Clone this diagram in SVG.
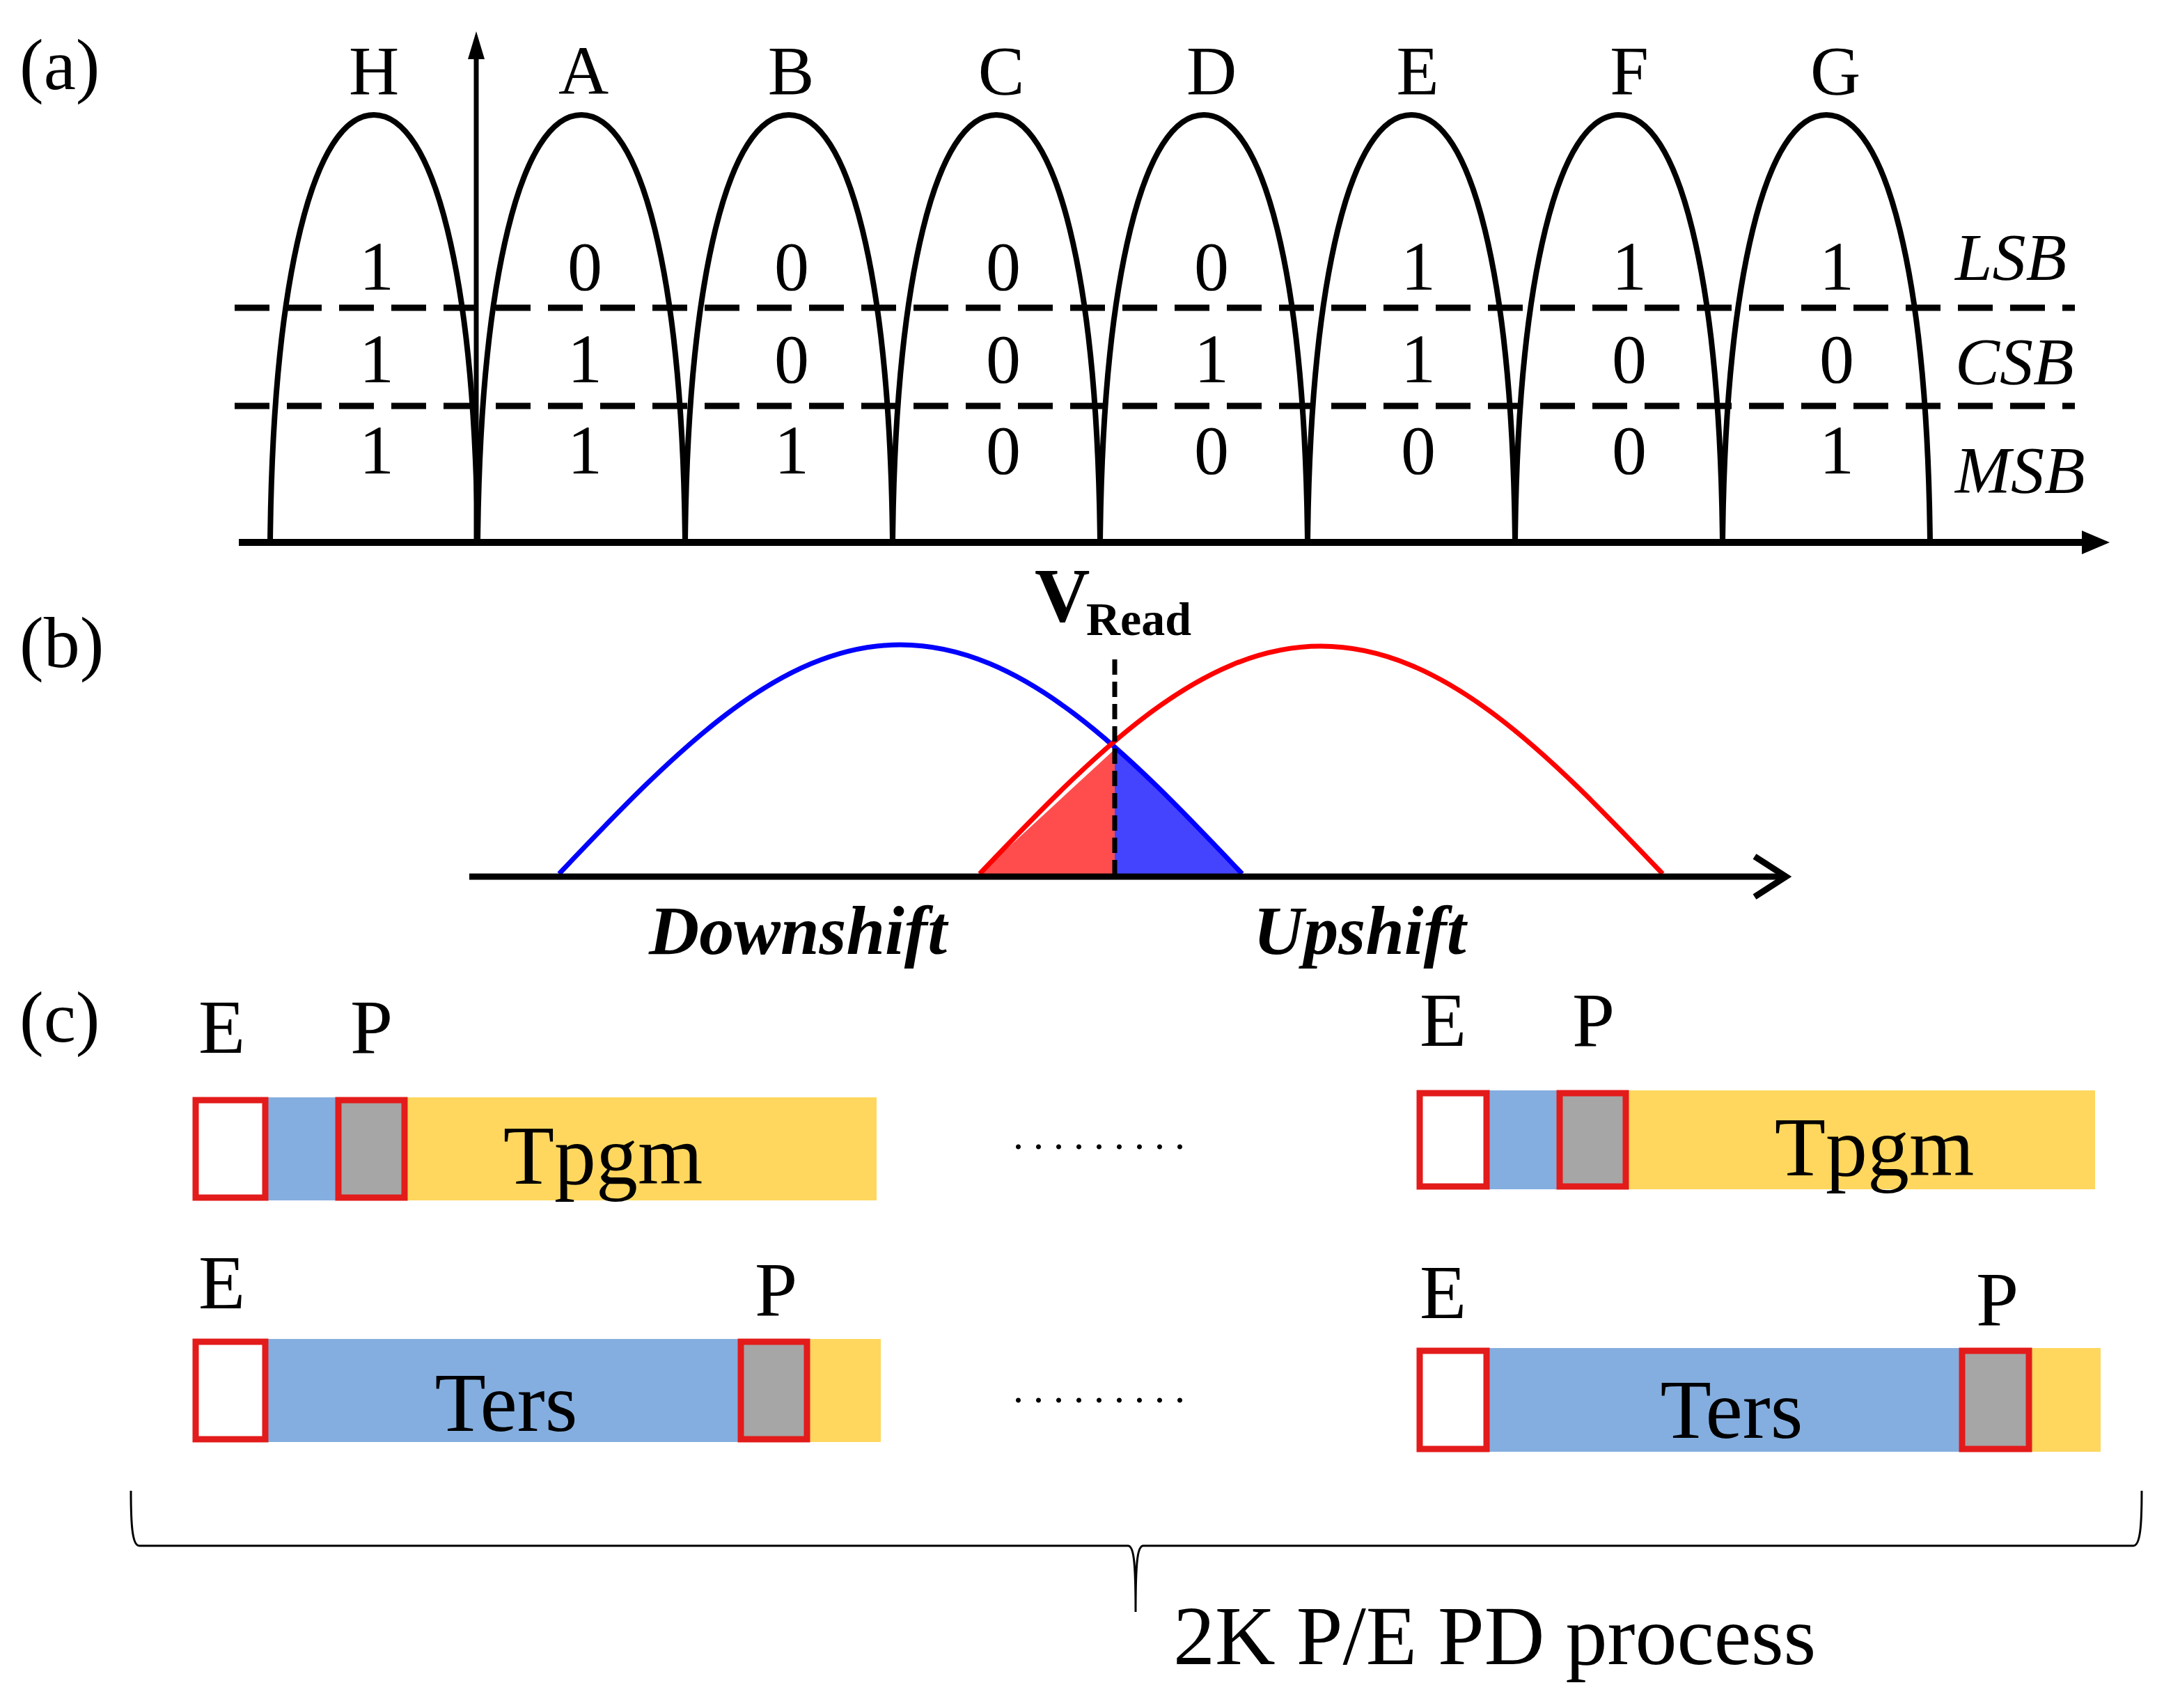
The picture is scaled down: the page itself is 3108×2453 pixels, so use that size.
<svg xmlns="http://www.w3.org/2000/svg" width="3108" height="2453" viewBox="0 0 3108 2453">
<style>
text{font-family:"Liberation Serif","Times New Roman",serif;fill:#000}
.lab{font-size:104px}
.dig{font-size:100px;text-anchor:middle}
.st{font-size:96px;font-style:italic}
.bell{fill:none;stroke:#000;stroke-width:8}
.dash{stroke:#000;stroke-width:9;stroke-dasharray:50 25}
.rb{fill:#fff;stroke:#e31b1b;stroke-width:9}
.gb{fill:#a6a6a6;stroke:#e31b1b;stroke-width:9}
.bl{fill:#84aedf}
.ye{fill:#ffd75e}
.big{font-size:120px;text-anchor:middle}
.ep{font-size:110px}
.dots{font-size:60px;letter-spacing:14px}
</style>
<defs>
<marker id="ah" markerWidth="10" markerHeight="10" refX="9" refY="5" orient="auto" markerUnits="userSpaceOnUse" viewBox="0 0 10 10"><path d="M0,0 L10,5 L0,10 Z" fill="#000"/></marker>
</defs>
<rect width="3108" height="2453" fill="#fff"/>
<g id="panel-a">
<text class="lab" x="28" y="128">(a)</text>
<line x1="343" y1="779" x2="3000" y2="779" stroke="#000" stroke-width="10"/>
<path d="M3030,779 L2990,762 L2990,796 Z" fill="#000"/>
<line x1="684" y1="779" x2="684" y2="80" stroke="#000" stroke-width="7"/>
<path d="M684,45 L672,85 L696,85 Z" fill="#000"/>
<line class="dash" x1="337" y1="442" x2="2980" y2="442"/>
<line class="dash" x1="337" y1="583" x2="2980" y2="583"/>
<g id="bells">
<path class="bell" d="M388,779 C392,400 450,165 537,165 C624,165 682,400 686,779"/>
<path class="bell" d="M686,779 C690,400 748,165 835,165 C922,165 980,400 984,779"/>
<path class="bell" d="M984,779 C988,400 1046,165 1133,165 C1220,165 1278,400 1282,779"/>
<path class="bell" d="M1282,779 C1286,400 1344,165 1431,165 C1518,165 1576,400 1580,779"/>
<path class="bell" d="M1580,779 C1584,400 1642,165 1729,165 C1816,165 1874,400 1878,779"/>
<path class="bell" d="M1878,779 C1882,400 1940,165 2027,165 C2114,165 2172,400 2176,779"/>
<path class="bell" d="M2176,779 C2180,400 2238,165 2325,165 C2412,165 2470,400 2474,779"/>
<path class="bell" d="M2474,779 C2478,400 2536,165 2623,165 C2710,165 2768,400 2772,779"/>
</g>
<g class="dig">
<text x="537" y="135" class="dig" font-size="104">H</text>
<text x="838" y="135" class="dig">A</text>
<text x="1136" y="135" class="dig">B</text>
<text x="1438" y="135" class="dig">C</text>
<text x="1740" y="135" class="dig">D</text>
<text x="2036" y="135" class="dig">E</text>
<text x="2340" y="135" class="dig">F</text>
<text x="2636" y="135" class="dig">G</text>
</g>
<g>
<text class="dig" x="541" y="416">1</text><text class="dig" x="541" y="549">1</text><text class="dig" x="541" y="680">1</text>
<text class="dig" x="840" y="416">0</text><text class="dig" x="840" y="549">1</text><text class="dig" x="840" y="680">1</text>
<text class="dig" x="1137" y="416">0</text><text class="dig" x="1137" y="549">0</text><text class="dig" x="1137" y="680">1</text>
<text class="dig" x="1441" y="416">0</text><text class="dig" x="1441" y="549">0</text><text class="dig" x="1441" y="680">0</text>
<text class="dig" x="1740" y="416">0</text><text class="dig" x="1740" y="549">1</text><text class="dig" x="1740" y="680">0</text>
<text class="dig" x="2037" y="416">1</text><text class="dig" x="2037" y="549">1</text><text class="dig" x="2037" y="680">0</text>
<text class="dig" x="2340" y="416">1</text><text class="dig" x="2340" y="549">0</text><text class="dig" x="2340" y="680">0</text>
<text class="dig" x="2638" y="416">1</text><text class="dig" x="2638" y="549">0</text><text class="dig" x="2638" y="680">1</text>
</g>
<text class="st" x="2808" y="402">LSB</text>
<text class="st" x="2808" y="552">CSB</text>
<text class="st" x="2808" y="708">MSB</text>
</g>
<g id="panel-b">
<text class="lab" x="28" y="958">(b)</text>
<path d="M1407,1255 L1601,1076 L1601,1255 Z" fill="#ff4d4d"/>
<path d="M1601,1076 C1660,1130 1730,1200 1784,1255 L1601,1255 Z" fill="#4444ff"/>
<path d="M803,1255 C967,1082 1117,926 1293,926 C1470,926 1620,1082 1784,1255" fill="none" stroke="#0000ff" stroke-width="7"/>
<path d="M1407,1255 C1571,1083 1721,928 1897,928 C2074,928 2224,1083 2388,1255" fill="none" stroke="#ff0000" stroke-width="7"/>
<line x1="674" y1="1259" x2="2560" y2="1259" stroke="#000" stroke-width="9"/>
<path d="M2520,1230 L2565,1259 L2520,1288" fill="none" stroke="#000" stroke-width="9"/>
<line x1="1601" y1="947" x2="1601" y2="1255" stroke="#000" stroke-width="7" stroke-dasharray="22 10"/>
<text x="1486" y="892" font-size="110" font-weight="bold">V</text>
<text x="1560" y="912" font-size="68" font-weight="bold">Read</text>
<text x="932" y="1370" font-size="100" font-weight="bold" font-style="italic">Downshift</text>
<text x="1800" y="1370" font-size="100" font-weight="bold" font-style="italic">Upshift</text>
</g>
<g id="panel-c">
<text class="lab" x="28" y="1496">(c)</text>
<g id="row1-left">
<text class="ep" x="285" y="1512">E</text><text class="ep" x="503" y="1512">P</text>
<rect class="ye" x="581" y="1576" width="678" height="148"/>
<rect class="bl" x="381" y="1576" width="101" height="148"/>
<rect class="rb" x="281" y="1580" width="100" height="140"/>
<rect class="gb" x="486" y="1580" width="95" height="140"/>
<text class="big" x="866" y="1700">Tpgm</text>
</g>
<text class="dots" x="1455" y="1650">.........</text>
<g id="row1-right">
<text class="ep" x="2039" y="1502">E</text><text class="ep" x="2258" y="1502">P</text>
<rect class="ye" x="2335" y="1566" width="674" height="142"/>
<rect class="bl" x="2135" y="1566" width="101" height="142"/>
<rect class="rb" x="2039" y="1570" width="96" height="134"/>
<rect class="gb" x="2240" y="1570" width="95" height="134"/>
<text class="big" x="2692" y="1688">Tpgm</text>
</g>
<g id="row2-left">
<text class="ep" x="285" y="1879">E</text><text class="ep" x="1084" y="1889">P</text>
<rect class="bl" x="381" y="1923" width="679" height="148"/>
<rect class="ye" x="1163" y="1923" width="102" height="148"/>
<rect class="rb" x="281" y="1927" width="100" height="140"/>
<rect class="gb" x="1064" y="1927" width="95" height="140"/>
<text class="big" x="727" y="2055">Ters</text>
</g>
<text class="dots" x="1455" y="2014">.........</text>
<g id="row2-right">
<text class="ep" x="2039" y="1893">E</text><text class="ep" x="2838" y="1903">P</text>
<rect class="bl" x="2135" y="1936" width="679" height="149"/>
<rect class="ye" x="2918" y="1936" width="99" height="149"/>
<rect class="rb" x="2039" y="1940" width="96" height="141"/>
<rect class="gb" x="2818" y="1940" width="96" height="141"/>
<text class="big" x="2487" y="2065">Ters</text>
</g>
<path d="M188,2141 C188,2190 190,2220 200,2220 L1620,2220 C1628,2220 1631,2240 1631,2315 C1631,2240 1634,2220 1642,2220 L3064,2220 C3074,2220 3076,2190 3076,2141" fill="none" stroke="#000" stroke-width="3"/>
<text x="1685" y="2390" font-size="120">2K P/E PD process</text>
</g>
</svg>
